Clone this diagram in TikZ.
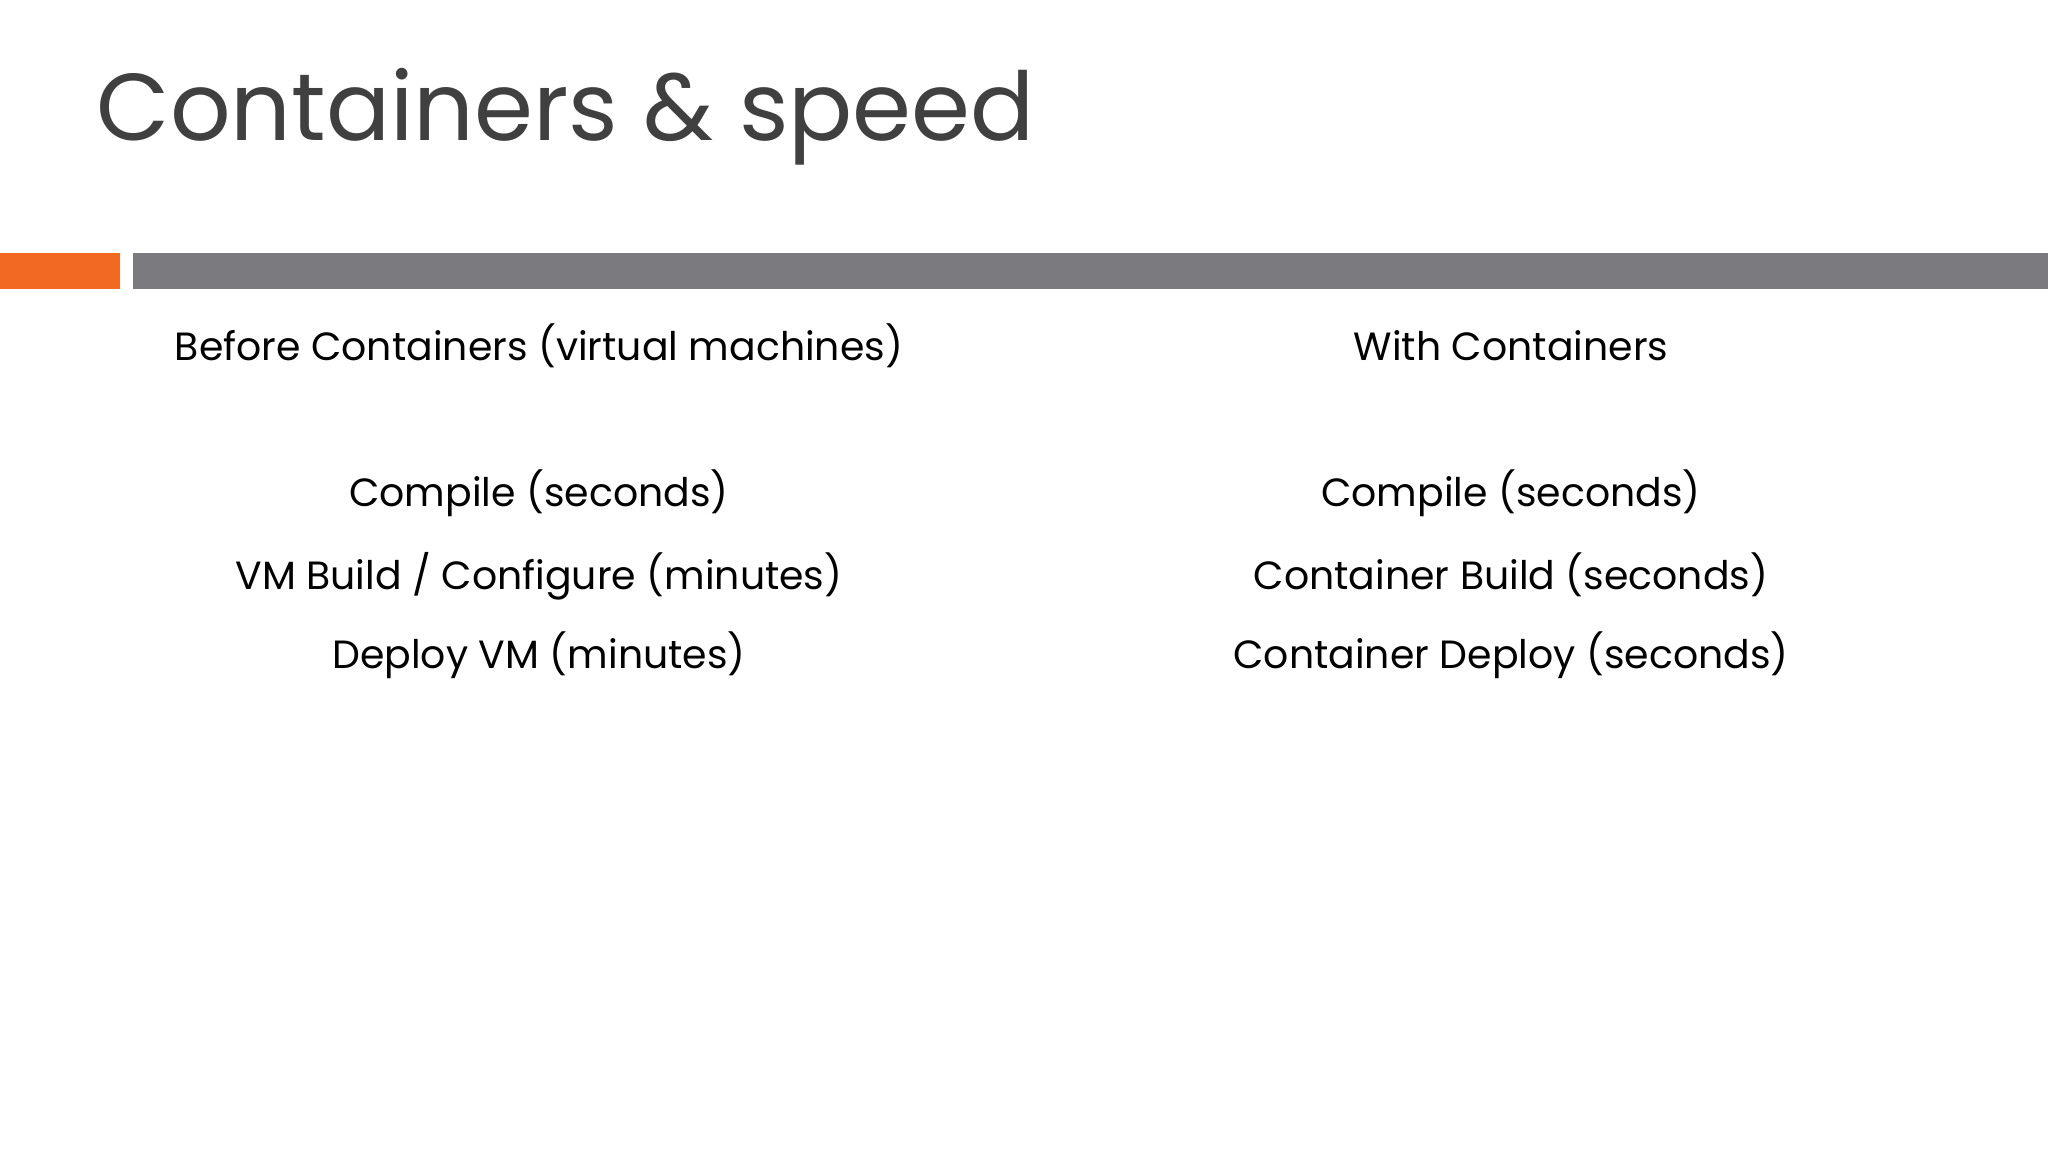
\documentclass[tikz,border=0pt]{standalone}
\usepackage{fontspec}
\setmainfont{Poppins}
\definecolor{titlegray}{HTML}{404040}
\definecolor{bargray}{HTML}{7B7A7E}
\definecolor{barorange}{HTML}{F26A22}
\begin{document}
\begin{tikzpicture}[x=0.01cm,y=-0.01cm,
  item/.style={font=\fontsize{11.2pt}{14pt}\selectfont, text=black, inner sep=0pt, anchor=base}]
\useasboundingbox[fill=white] (0,0) rectangle (2048,1152);
\node[anchor=base west, inner sep=0pt, text=titlegray, font=\fontsize{27pt}{32pt}\selectfont] (title) at (96,141) {Containers \& speed};
\fill[barorange] (0,253) rectangle (120,289);
\fill[bargray] (133,253) rectangle (2048,289);
\node[item] (h1) at (539,361) {Before Containers (virtual machines)};
\node[item] (h2) at (1511,361) {With Containers};
\node[item] (a1) at (539,507) {Compile (seconds)};
\node[item] (a2) at (539,590) {VM Build / Configure (minutes)};
\node[item] (a3) at (539,669) {Deploy VM (minutes)};
\node[item] (b1) at (1511,507) {Compile (seconds)};
\node[item] (b2) at (1511,590) {Container Build (seconds)};
\node[item] (b3) at (1511,669) {Container Deploy (seconds)};
\end{tikzpicture}
\end{document}
